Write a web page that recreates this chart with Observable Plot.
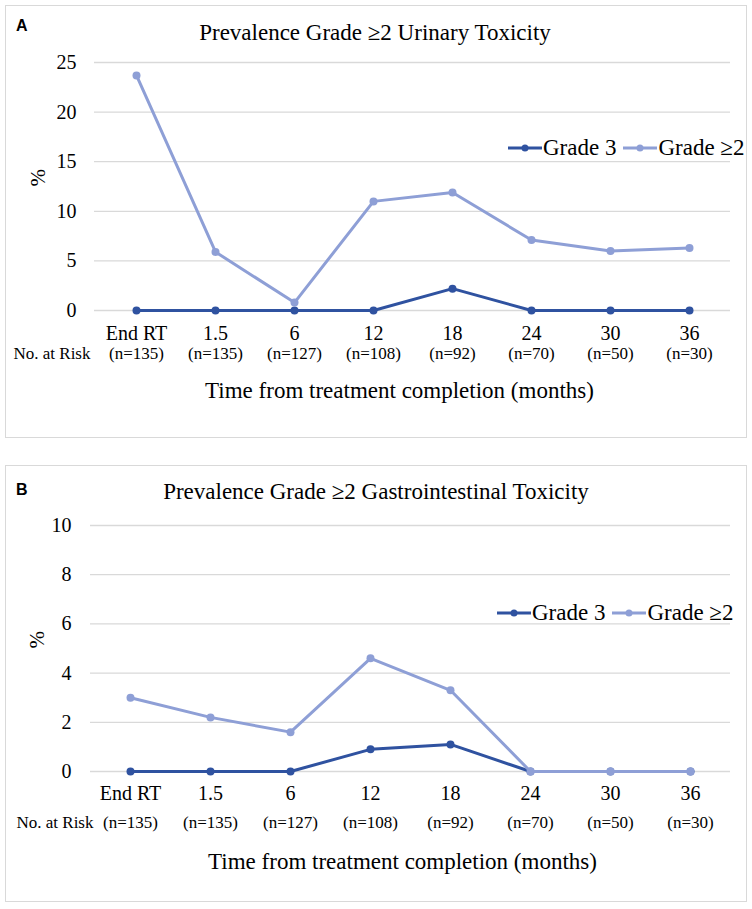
<!DOCTYPE html>
<html>
<head>
<meta charset="utf-8">
<script src="https://cdn.jsdelivr.net/npm/d3@7"></script>
<script src="https://cdn.jsdelivr.net/npm/@observablehq/plot@0.6"></script>
<style>
  html, body { margin: 0; padding: 0; background: #fff; }
  #root { position: relative; width: 752px; height: 909px; font-family: 'Liberation Serif', 'Times New Roman', serif; color: #000; }
  .box { position: absolute; border: 1px solid #d9d9d9; box-sizing: border-box; }
  .title { position: absolute; font-size: 23px; white-space: nowrap; transform: translate(-50%, -50%); }
  .tag { position: absolute; font-family: 'Liberation Sans', Arial, sans-serif; font-weight: bold; font-size: 16px; transform: translateY(-50%); }
  .legend { position: absolute; display: flex; align-items: center; font-size: 23px; white-space: nowrap; transform: translateY(-50%); }
  .legend .item { display: flex; align-items: center; margin-right: 7px; }
  .legend svg { margin-right: 1px; }
  .plot { position: absolute; left: 0; }
</style>
</head>
<body>
<div id="root"></div>
<script>
const categories = ["End RT", "1.5", "6", "12", "18", "24", "30", "36"];
const nAtRisk = ["(n=135)", "(n=135)", "(n=127)", "(n=108)", "(n=92)", "(n=70)", "(n=50)", "(n=30)"];
const seriesNames = ["Grade 3", "Grade \u22652"];
const urinaryGrade3 = [0, 0, 0, 0, 2.2, 0, 0, 0];
const urinaryGrade2 = [23.7, 5.9, 0.8, 11.0, 11.9, 7.1, 6.0, 6.3];
const giGrade3 = [0, 0, 0, 0.9, 1.1, 0, 0, 0];
const giGrade2 = [3.0, 2.2, 1.6, 4.6, 3.3, 0, 0, 0];
const urinaryTicks = [0, 5, 10, 15, 20, 25];
const giTicks = [0, 2, 4, 6, 8, 10];
const titleA = "Prevalence Grade \u22652 Urinary Toxicity";
const titleB = "Prevalence Grade \u22652 Gastrointestinal Toxicity";
const xTitle = "Time from treatment completion (months)";

const dark = "#2f52a0";
const light = "#8e9fd6";
const serif = "'Liberation Serif', 'Times New Roman', serif";
const root = document.getElementById("root");

function makePlot(cfg) {
  const rows3 = categories.map((c, i) => ({c, v: cfg.g3[i]}));
  const rows2 = categories.map((c, i) => ({c, v: cfg.g2[i]}));
  return Plot.plot({
    width: 752,
    height: cfg.height,
    marginTop: cfg.mt,
    marginBottom: cfg.mb,
    marginLeft: cfg.ml,
    marginRight: 22,
    style: {fontFamily: serif, fontSize: "20px", color: "#000", background: "transparent", overflow: "visible"},
    x: {type: "point", domain: categories, padding: 0.5, label: null},
    y: {domain: [0, cfg.ticks[cfg.ticks.length - 1]], label: null},
    marks: [
      Plot.gridY(cfg.ticks, {stroke: "#d9d9d9", strokeOpacity: 1, strokeWidth: 1.3}),
      Plot.axisY(cfg.ticks, {tickSize: 0, tickPadding: cfg.yPad, fontSize: 20, fontFamily: serif, label: null, fill: "#000"}),
      Plot.axisX({tickSize: 0, tickPadding: cfg.xPad, fontSize: 20, fontFamily: serif, label: null, fill: "#000"}),
      Plot.text(nAtRisk, {x: (d, i) => categories[i], text: d => d, frameAnchor: "bottom", dy: cfg.nDy, fontSize: 17, fontFamily: serif, fill: "#000"}),
      Plot.text(["No. at Risk"], {frameAnchor: "bottom-left", dx: cfg.noDx, dy: cfg.nDy, textAnchor: "start", fontSize: 17, fontFamily: serif, fill: "#000"}),
      Plot.text([xTitle], {frameAnchor: "bottom", dx: cfg.tDx, dy: cfg.tDy, fontSize: 23, fontFamily: serif, fill: "#000"}),
      Plot.text(["%"], {frameAnchor: "left", dx: cfg.pctDx, rotate: -90, fontSize: 21, fontFamily: serif, fill: "#000"}),
      Plot.line(rows3, {x: "c", y: "v", stroke: dark, strokeWidth: 3}),
      Plot.dot(rows3, {x: "c", y: "v", r: 4, fill: dark}),
      Plot.line(rows2, {x: "c", y: "v", stroke: light, strokeWidth: 3}),
      Plot.dot(rows2, {x: "c", y: "v", r: 4, fill: light})
    ]
  });
}

function swatch(color) {
  return `<svg width="34" height="10"><line x1="0" x2="34" y1="5" y2="5" stroke="${color}" stroke-width="3"/><circle cx="17" cy="5" r="3.5" fill="${color}"/></svg>`;
}

function addPanel(p) {
  const box = document.createElement("div");
  box.className = "box";
  Object.assign(box.style, {left: "5px", top: p.boxTop + "px", width: "742px", height: p.boxH + "px"});
  root.appendChild(box);

  const svg = makePlot(p);
  svg.classList.add("plot");
  svg.style.top = p.top + "px";
  root.appendChild(svg);

  const tag = document.createElement("div");
  tag.className = "tag";
  tag.textContent = p.tag;
  Object.assign(tag.style, {left: "16px", top: p.tagY + "px"});
  root.appendChild(tag);

  const t = document.createElement("div");
  t.className = "title";
  t.textContent = p.title;
  Object.assign(t.style, {left: p.titleX + "px", top: p.titleY + "px"});
  root.appendChild(t);

  const lg = document.createElement("div");
  lg.className = "legend";
  lg.innerHTML = `<span class="item">${swatch(dark)}<span>${seriesNames[0]}</span></span><span class="item">${swatch(light)}<span>${seriesNames[1]}</span></span>`;
  Object.assign(lg.style, {left: p.legX + "px", top: p.legY + "px"});
  root.appendChild(lg);
}

addPanel({
  tag: "A", title: titleA, g3: urinaryGrade3, g2: urinaryGrade2, ticks: urinaryTicks,
  top: 0, height: 440, mt: 62, mb: 130, ml: 94,
  yPad: 18, xPad: 15, nDy: 48, tDy: 87, tDx: -13, noDx: -81, pctDx: -56,
  boxTop: 5, boxH: 433, tagY: 26, titleX: 375, titleY: 33, legX: 508, legY: 148
});
addPanel({
  tag: "B", title: titleB, g3: giGrade3, g2: giGrade2, ticks: giTicks,
  top: 460, height: 449, mt: 65, mb: 138, ml: 90,
  yPad: 19, xPad: 14, nDy: 56, tDy: 97, tDx: -8, noDx: -74, pctDx: -53,
  boxTop: 465, boxH: 437, tagY: 490, titleX: 376, titleY: 492, legX: 497, legY: 613
});
</script>
</body>
</html>
